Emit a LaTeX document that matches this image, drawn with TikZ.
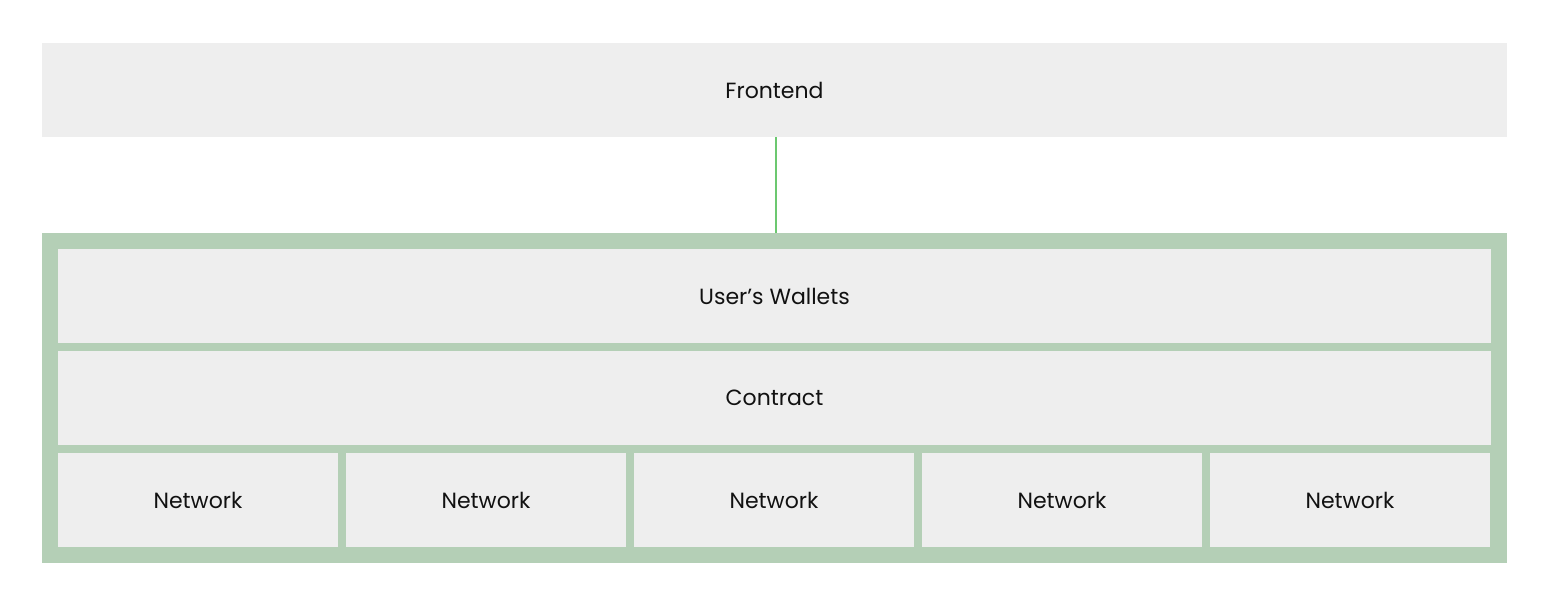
\documentclass[tikz,border=0pt]{standalone}
\usepackage{fontspec}
\setmainfont{Poppins}
\definecolor{boxgray}{HTML}{EEEEEE}
\definecolor{framegreen}{HTML}{B4CFB6}
\definecolor{linegreen}{HTML}{6CC870}
\definecolor{txt}{HTML}{111111}
\begin{document}
\begin{tikzpicture}[x=1bp,y=-1bp,
  layerbox/.style={fill=boxgray,draw=none,inner sep=0pt,text=txt,font=\fontsize{22bp}{26bp}\selectfont},
]
\useasboundingbox (0,0) rectangle (1553,603);
% frontend
\node[layerbox,minimum width=1465bp,minimum height=94bp] (front) at (774.5,90.5) {Frontend};
% outer frame
\node[fill=framegreen,draw=none,inner sep=0pt,minimum width=1465bp,minimum height=330bp] (frame) at (774.5,398) {};
\node[layerbox,minimum width=1433bp,minimum height=94bp] (wallets) at (774.5,296) {User’s Wallets};
\node[layerbox,minimum width=1433bp,minimum height=94bp] (contract) at (774.5,398) {Contract};
\foreach \i/\x in {1/198,2/486,3/774,4/1062,5/1350}{
  \node[layerbox,minimum width=280bp,minimum height=94bp] (net\i) at (\x,500) {Network};
}
\coordinate (fb) at (776,137.5);
\coordinate (ft) at (776,233);
\draw[linegreen,line width=2bp] (fb) -- (ft);
\end{tikzpicture}
\end{document}
